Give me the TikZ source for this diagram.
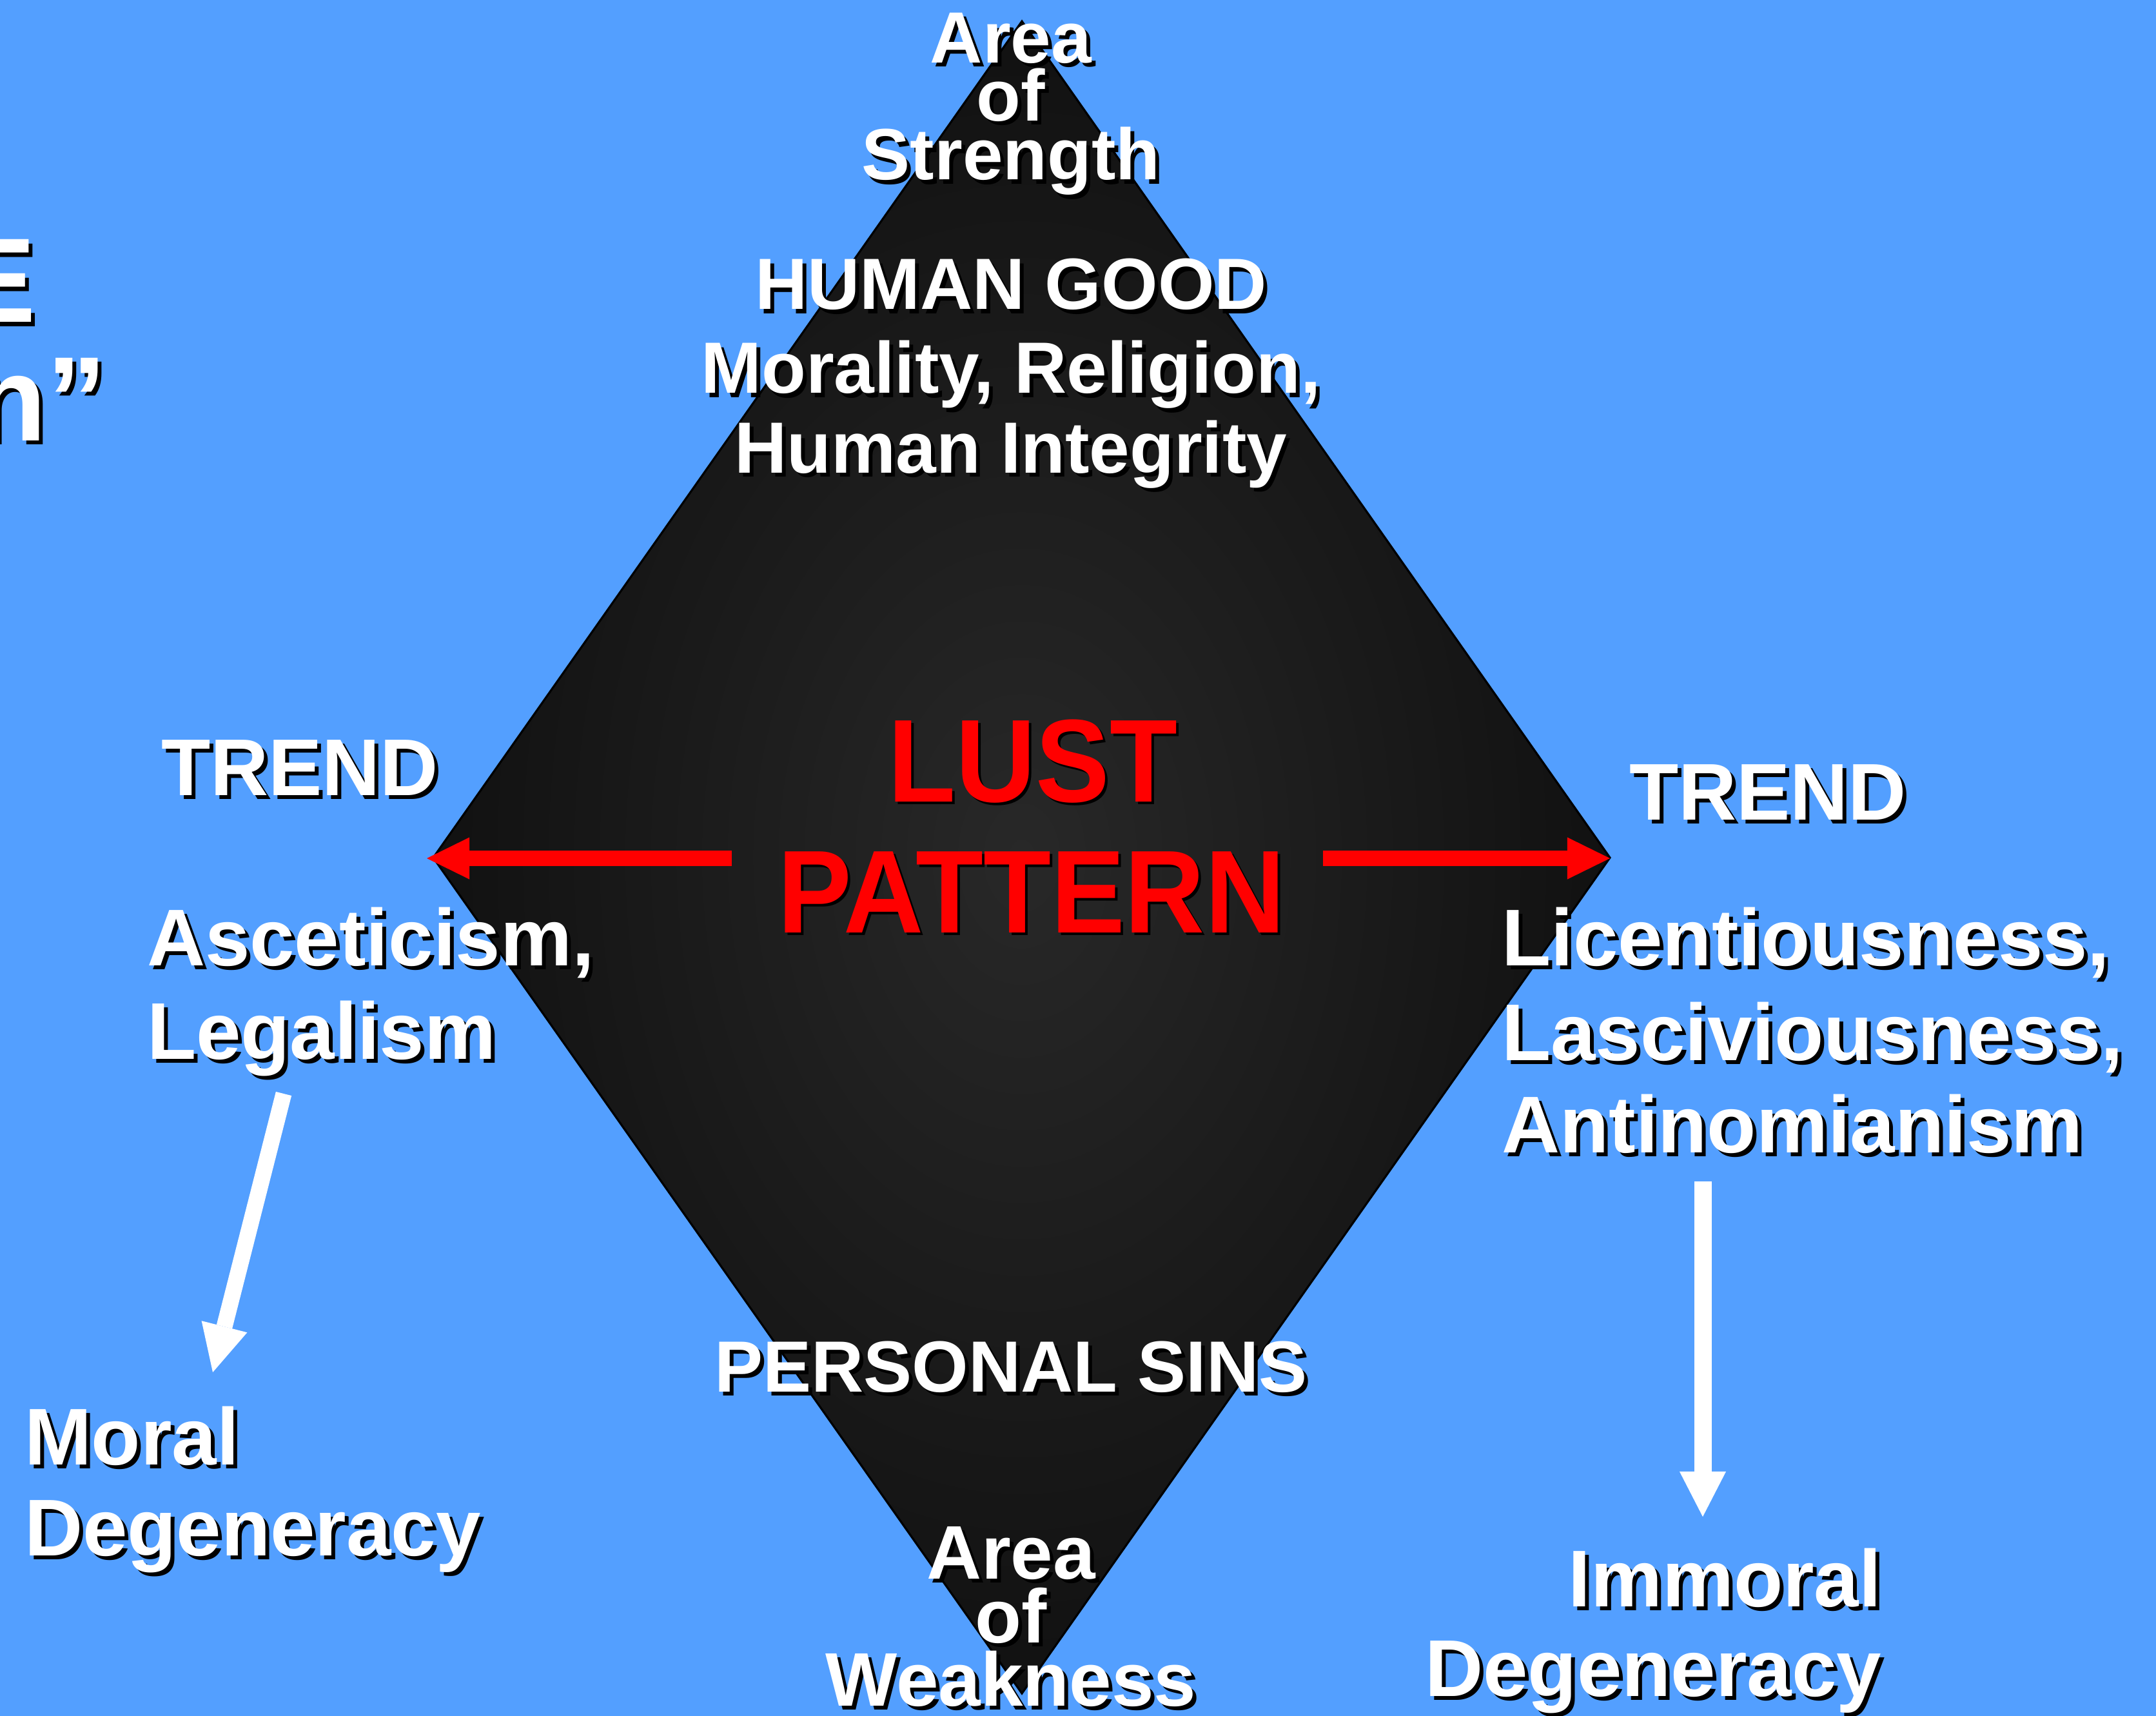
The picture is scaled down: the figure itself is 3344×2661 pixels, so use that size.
\documentclass[tikz,border=0pt]{standalone}
\usepackage{fontspec}
\setmainfont{Liberation Sans}
\usetikzlibrary{arrows.meta}
\definecolor{bgblue}{RGB}{83,159,255}
\definecolor{dkc}{RGB}{40,40,40}
\definecolor{dke}{RGB}{17,17,17}
\definecolor{lustred}{RGB}{255,0,0}
\newcommand\shtext[5]{%
  \node[txt, anchor=#3, font=\bfseries\fontsize{#4}{#4}\selectfont, text=black, xshift=0.06cm, yshift=-0.06cm] at (#2) {#5};
  \node[txt, anchor=#3, font=\bfseries\fontsize{#4}{#4}\selectfont, text=white] (#1) at (#2) {#5};
}
\newcommand\redtext[3]{%
  \node[txt, anchor=base, font=\bfseries\fontsize{52}{52}\selectfont, text=black, xshift=0.04cm, yshift=-0.04cm] at (#2) {\scalebox{0.94}[1]{#3}};
  \node[txt, anchor=base, font=\bfseries\fontsize{52}{52}\selectfont, text=lustred] (#1) at (#2) {\scalebox{0.94}[1]{#3}};
}
\begin{document}
\begin{tikzpicture}[x=0.01cm,y=-0.01cm,
  txt/.style={inner sep=0pt, outer sep=0pt},
  redarrow/.style={draw=lustred, line width=0.24cm, -{Triangle[length=0.66cm,width=0.65cm,line width=0pt]}},
  whitearrow/.style={draw=white, -{Triangle[length=0.73cm,width=0.73cm,line width=0pt]}}]
\fill[bgblue] (0,0) rectangle (3344,2661);
\useasboundingbox (0,0) rectangle (3344,2661);
\begin{scope}
\clip (0,0) rectangle (3344,2661);
% diamond
\coordinate (T) at (1585,33);
\coordinate (R) at (2497,1330);
\coordinate (B) at (1585,2626);
\coordinate (L) at (672,1330);
\shade[inner color=dkc, outer color=dke] (T) -- (R) -- (B) -- (L) -- cycle;
\draw[black, line width=0.9pt, line join=miter] (T) -- (R) -- (B) -- (L) -- cycle;

% title fragments at the left edge
\shtext{fragE}{56,500}{base east}{53}{E}
\shtext{fragN}{166,683}{base east}{53}{n”}

% top texts
\shtext{aS1}{1568,98}{base}{32}{Area}
\shtext{aS2}{1568,188}{base}{32}{of}
\shtext{aS3}{1568,279}{base}{32}{Strength}
\shtext{hg}{1568,480}{base}{32}{HUMAN GOOD}
\shtext{mr}{1568,610}{base}{32}{Morality, Religion,}
\shtext{hi}{1568,733}{base}{32}{Human Integrity}

% centre
\redtext{lust}{1602,1243}{LUST}
\redtext{pattern}{1600,1446}{PATTERN}

% red arrows
\coordinate (lsL) at (1135,1331);
\coordinate (lsR) at (2052,1331);
\coordinate (tipL) at (662,1331);
\coordinate (tipR) at (2497,1331);
\draw[redarrow] (lsL) -- (tipL);
\draw[redarrow] (lsR) -- (tipR);

% left side
\shtext{trendL}{250,1233}{base west}{35.5}{TREND}
\shtext{asc}{228,1497}{base west}{35.5}{Asceticism,}
\shtext{leg}{228,1642}{base west}{35.5}{Legalism}
\shtext{mor}{38,2271}{base west}{35.5}{Moral}
\shtext{degL}{38,2412}{base west}{35.5}{Degeneracy}

% right side
\shtext{trendR}{2527,1271}{base west}{35.5}{TREND}
\shtext{lic}{2329,1497}{base west}{35.5}{Licentiousness,}
\shtext{las}{2329,1644}{base west}{35.5}{Lasciviousness,}
\shtext{ant}{2329,1787}{base west}{35.5}{Antinomianism}
\shtext{imm}{2918,2491}{base east}{35.5}{Immoral}
\shtext{degR}{2918,2630}{base east}{35.5}{Degeneracy}

% bottom
\shtext{ps}{1568,2158}{base}{32}{PERSONAL SINS}
\shtext{aW1}{1568,2448}{base}{33.5}{Area}
\shtext{aW2}{1568,2547}{base}{33.5}{of}
\shtext{aW3}{1568,2645}{base}{33.5}{Weakness}

% white arrows
\coordinate (wL1) at (440,1696);
\coordinate (wL2) at (330,2128);
\coordinate (wR1) at (2641,1832);
\coordinate (wR2) at (2641,2352);
\draw[whitearrow, line width=0.25cm] (wL1) -- (wL2);
\draw[whitearrow, line width=0.27cm, -{Triangle[length=0.7cm,width=0.72cm,line width=0pt]}] (wR1) -- (wR2);
\end{scope}
\end{tikzpicture}
\end{document}
